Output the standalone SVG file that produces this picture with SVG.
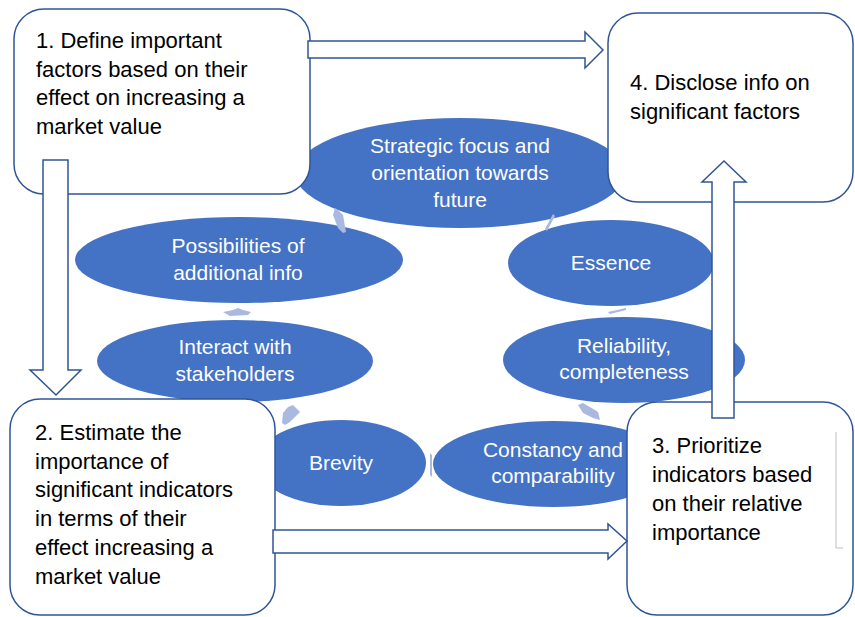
<svg xmlns="http://www.w3.org/2000/svg" width="855" height="617" viewBox="0 0 855 617">
<style>
.box{fill:#fff;stroke:#2F5597;stroke-width:1.5}
.ell{fill:#4472C4}
.btxt{font-family:"Liberation Sans",Arial,sans-serif;font-size:22px;fill:#000}
.wtxt{font-family:"Liberation Sans",Arial,sans-serif;font-size:21px;fill:#fff;text-anchor:middle}
.cyc{fill:#AAB9E0}
.blk{fill:#fff;stroke:#2F5597;stroke-width:1.5}
</style>
<rect width="855" height="617" fill="#fff"/>
<g id="cycle">
<g id="e-strategic"><ellipse class="ell" cx="460" cy="173" rx="165" ry="55"/>
<text class="wtxt"><tspan x="460" y="153">Strategic focus and</tspan><tspan x="460" y="180">orientation towards</tspan><tspan x="460" y="207">future</tspan></text></g>
<g id="e-possibilities"><ellipse class="ell" cx="239" cy="260" rx="164" ry="43"/>
<text class="wtxt"><tspan x="238" y="253">Possibilities of</tspan><tspan x="238" y="280">additional info</tspan></text></g>
<g id="e-interact"><ellipse class="ell" cx="235" cy="361" rx="138" ry="41"/>
<text class="wtxt"><tspan x="235" y="354">Interact with</tspan><tspan x="235" y="381">stakeholders</tspan></text></g>
<g id="e-brevity"><ellipse class="ell" cx="341" cy="463" rx="85" ry="43"/>
<text class="wtxt" x="341" y="470">Brevity</text></g>
<g id="e-constancy"><ellipse class="ell" cx="553" cy="464" rx="120" ry="43"/>
<text class="wtxt"><tspan x="553" y="457">Constancy and</tspan><tspan x="553" y="483">comparability</tspan></text></g>
<g id="e-reliability"><ellipse class="ell" cx="624" cy="360" rx="121" ry="43"/>
<text class="wtxt"><tspan x="624" y="353">Reliability,</tspan><tspan x="624" y="379">completeness</tspan></text></g>
<g id="e-essence"><ellipse class="ell" cx="611" cy="263" rx="103" ry="43"/>
<text class="wtxt" x="611" y="270">Essence</text></g>
</g>
<g id="cycle-connectors">
<polygon class="cyc" points="335,208 338,210 343,215 346,232 343,233 338,228 333,215"/>
<polygon class="cyc" points="223,312 233,310 238,308 243,310 251,312 248,315 230,316"/>
<polygon class="cyc" points="282,423 283,413 288,407 293,405 300,412 297,415 290,422 285,425"/>
<polygon class="cyc" points="430,453 432,455 432,477 430,475"/>
<polygon class="cyc" points="578,405 583,403 595,410 598,412 600,420 593,418 583,413"/>
<polygon class="cyc" points="608,312 626,308 626,310 610,314"/>
<polygon class="cyc" points="553,214 555,216 547,231 545,229"/>
</g>
<g id="box1"><rect class="box" x="14" y="9" width="296" height="185" rx="30"/>
<text class="btxt"><tspan x="36" y="48">1. Define important</tspan><tspan x="36" y="77">factors based on their</tspan><tspan x="36" y="105">effect on increasing a</tspan><tspan x="36" y="134">market value</tspan></text></g>
<g id="box4"><rect class="box" x="608" y="13" width="245" height="189" rx="30"/>
<text class="btxt"><tspan x="630" y="90">4. Disclose info on</tspan><tspan x="630" y="119">significant factors</tspan></text></g>
<g id="box2"><rect class="box" x="10" y="399" width="265" height="216" rx="30"/>
<text class="btxt"><tspan x="35" y="440">2. Estimate the</tspan><tspan x="35" y="469">importance of</tspan><tspan x="35" y="497">significant indicators</tspan><tspan x="35" y="526">in terms of their</tspan><tspan x="35" y="555">effect increasing a</tspan><tspan x="35" y="584">market value</tspan></text></g>
<g id="box3"><rect class="box" x="627" y="402" width="226" height="213" rx="30"/>
<polyline points="836,432 836,548 843,548" fill="none" stroke="#BFBFBF" stroke-width="1"/>
<text class="btxt"><tspan x="652" y="453">3. Prioritize</tspan><tspan x="652" y="482">indicators based</tspan><tspan x="652" y="511">on their relative</tspan><tspan x="652" y="540">importance</tspan></text></g>
<g id="connectors">
<polygon class="blk" points="308,41 585,41 585,32 603,50 585,68 585,58 308,58"/>
<polygon class="blk" points="43,160 68,160 68,370 81,370 56,395 30,370 43,370"/>
<polygon class="blk" points="273,530 608,530 608,524 627,541 608,559 608,553 273,553"/>
<polygon class="blk" points="712,418 712,182 702,182 724,161 746,182 734,182 734,418"/>
</g>
</svg>
